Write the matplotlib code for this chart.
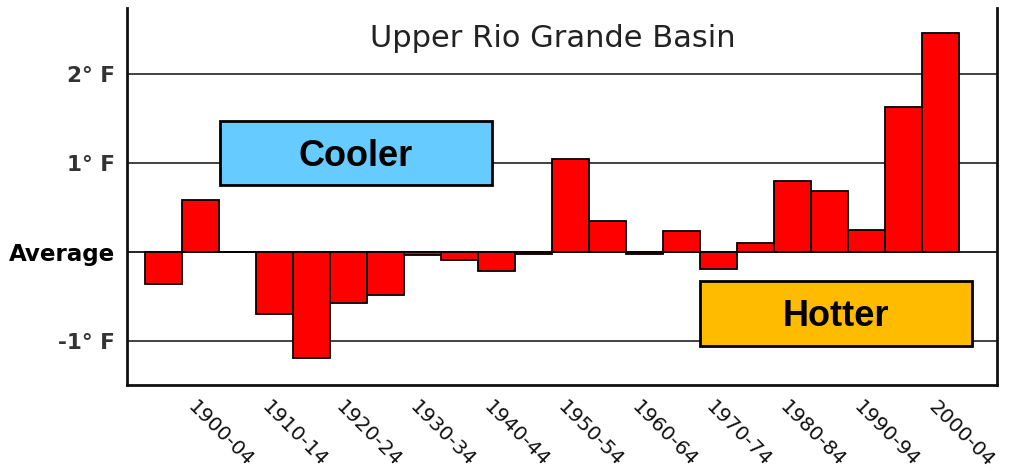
import matplotlib
matplotlib.use("Agg")
import matplotlib.pyplot as plt
import matplotlib.transforms as mtransforms
from matplotlib.patches import Rectangle

# five-year periods, departure from average (deg F)
periods = ['1895-99', '1900-04', '1905-09', '1910-14', '1915-19', '1920-24',
           '1925-29', '1930-34', '1935-39', '1940-44', '1945-49', '1950-54',
           '1955-59', '1960-64', '1965-69', '1970-74', '1975-79', '1980-84',
           '1985-89', '1990-94', '1995-99', '2000-04']
anomaly = [-0.35, 0.59, 0.01, -0.69, -1.19, -0.57, -0.48, -0.03, -0.09, -0.21,
           -0.02, 1.05, 0.35, -0.02, 0.24, -0.18, 0.11, 0.80, 0.69, 0.25,
           1.63, 2.47]
ytick_vals = [-1, 0, 1, 2]
ytick_labels = ['-1\u00b0 F', 'Average', '1\u00b0 F', '2\u00b0 F']

fig = plt.figure(figsize=(10.13, 4.75), dpi=100)
ax = fig.add_axes([127 / 1013, 1 - 385 / 475, 870 / 1013, 377 / 475])

x = list(range(len(periods)))
for yv in ytick_vals:
    ax.axhline(yv, color='#333333' if yv else '#111111', lw=1.3, zorder=1)
ax.bar(x, anomaly, width=1.0, color='#ff0000', edgecolor='black',
       linewidth=1.3, zorder=2)

ax.set_xlim(-0.986, 22.52)
ax.set_ylim(-1.489, 2.747)

for s in ['left', 'bottom', 'right']:
    ax.spines[s].set_linewidth(2.0)
    ax.spines[s].set_color('#111111')
ax.spines['top'].set_visible(False)

# y ticks
ax.set_yticks(ytick_vals)
ax.set_yticklabels(ytick_labels)
ax.tick_params(axis='y', length=0, pad=8.5)
for lab in ax.get_yticklabels():
    lab.set_fontfamily('DejaVu Sans')
    lab.set_fontweight('bold')
    if lab.get_text() == 'Average':
        lab.set_fontsize(16.6)
        lab.set_color('black')
    else:
        lab.set_fontsize(15.5)
        lab.set_color('#333333')

# x ticks: every other period starting at 1900-04
xt = x[1::2]
ax.set_xticks(xt)
ax.set_xticklabels([periods[i] for i in xt], rotation=-45, ha='left',
                   va='top', rotation_mode='anchor', fontsize=14.5,
                   color='#111111')
ax.tick_params(axis='x', length=0, pad=9)
off = mtransforms.ScaledTranslation(-0.03, 0, fig.dpi_scale_trans)
for lab in ax.get_xticklabels():
    lab.set_transform(lab.get_transform() + off)

ax.text(0.4897, 0.8966, 'Upper Rio Grande Basin', transform=ax.transAxes,
        ha='center', va='baseline', fontsize=22, color='#222222',
        family='DejaVu Sans')

# annotation boxes
ax.add_patch(Rectangle((0.1069, 0.5305), 0.3126, 0.1698, transform=ax.transAxes,
                       facecolor='#66ccff', edgecolor='black', lw=2, zorder=3))
ax.text(0.2632, 0.6074, 'Cooler', transform=ax.transAxes, ha='center',
        va='center', fontsize=26, fontweight='bold', family='Liberation Sans',
        zorder=4)
ax.add_patch(Rectangle((0.6586, 0.1034), 0.3127, 0.1725, transform=ax.transAxes,
                       facecolor='#ffbb00', edgecolor='black', lw=2, zorder=3))
ax.text(0.815, 0.1817, 'Hotter', transform=ax.transAxes, ha='center',
        va='center', fontsize=26, fontweight='bold', family='Liberation Sans',
        zorder=4)

fig.savefig('out.png', dpi=100)
